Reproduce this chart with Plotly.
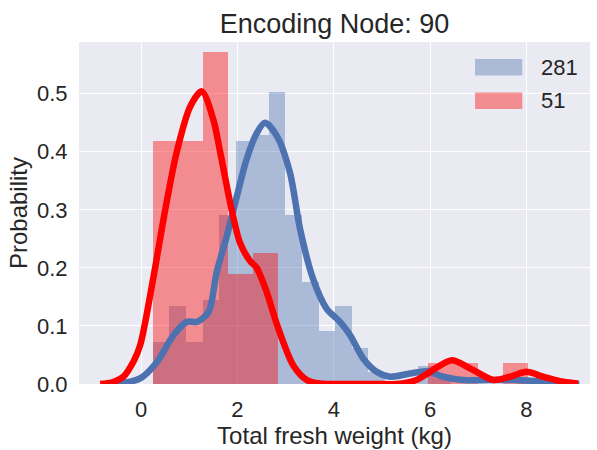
import numpy as np
import plotly.graph_objects as go

# ---------------- data ----------------
title_text = "Encoding Node: 90"
x_label = "Total fresh weight (kg)"
y_label = "Probability"
series_names = ["281", "51"]

# histogram bins (kg)
blue_bin_start = 0.243
blue_bin_width = 0.344
blue_density = [0.072, 0.135, 0.072, 0.145, 0.291, 0.418, 0.428, 0.503, 0.291,
                0.176, 0.092, 0.134, 0.062, 0.021, 0.0, 0.0, 0.031, 0.010,
                0.0, 0.0, 0.0, 0.0, 0.010]

red_bin_start = 0.243
red_bin_width = 0.5187
red_density = [0.418, 0.418, 0.572, 0.190, 0.225, 0.0, 0.0, 0.0, 0.0, 0.0, 0.0,
               0.036, 0.036, 0.0, 0.036]

# KDE curves
blue_kde_x = [-0.50, -0.02, 0.33, 0.67, 0.95, 1.16, 1.40, 1.57, 1.78, 1.99, 2.19,
              2.40, 2.57, 2.82, 3.09, 3.30, 3.57, 3.85, 4.13, 4.34, 4.61, 4.89,
              5.17, 5.58, 5.93, 6.27, 6.69, 7.24, 7.79, 8.35, 8.76, 9.10]
blue_kde_y = [0.0, 0.0096, 0.038, 0.084, 0.107, 0.107, 0.124, 0.193, 0.255, 0.324,
              0.387, 0.432, 0.450, 0.427, 0.364, 0.267, 0.181, 0.130, 0.107, 0.084,
              0.044, 0.021, 0.0125, 0.018, 0.022, 0.0125, 0.0067, 0.0067, 0.0067,
              0.004, 0.001, 0.0]

red_kde_x = [-0.85, -0.60, -0.37, -0.15, -0.02, 0.07, 0.29, 0.50, 0.74, 1.02, 1.26,
             1.50, 1.64, 1.88, 2.05, 2.26, 2.40, 2.60, 2.83, 3.16, 3.44, 3.71, 4.20,
             4.80, 5.30, 5.72, 6.00, 6.45, 6.83, 7.31, 7.66, 8.00, 8.35, 8.76, 9.07]
red_kde_y = [0.0, 0.003, 0.0125, 0.040, 0.067, 0.100, 0.200, 0.300, 0.400, 0.478,
             0.504, 0.455, 0.400, 0.300, 0.244, 0.212, 0.200, 0.160, 0.100, 0.032,
             0.007, 0.001, 0.0, 0.0, 0.0, 0.007, 0.021, 0.041, 0.027, 0.007, 0.0125,
             0.021, 0.0125, 0.004, 0.001]

x_ticks = [0, 2, 4, 6, 8]
y_ticks = [0.0, 0.1, 0.2, 0.3, 0.4, 0.5]

# ---------------- styles ----------------
BLUE = "#4C72B0"
RED = "#FF0000"
BLUE_BAR = "rgba(76,114,176,0.4)"
RED_BAR = "rgba(255,0,0,0.4)"
TXT = "#262626"
FONT = "Liberation Sans, Arial, sans-serif"

blue_centers = blue_bin_start + blue_bin_width * (np.arange(len(blue_density)) + 0.5)
red_centers = red_bin_start + red_bin_width * (np.arange(len(red_density)) + 0.5)

fig = go.Figure()
fig.add_trace(go.Bar(x=blue_centers, y=blue_density, width=blue_bin_width,
                     marker=dict(color=BLUE_BAR, line=dict(width=0)),
                     name=series_names[0], showlegend=False))
fig.add_trace(go.Bar(x=red_centers, y=red_density, width=red_bin_width,
                     marker=dict(color=RED_BAR, line=dict(width=0)),
                     name=series_names[1], showlegend=False))
fig.add_trace(go.Scatter(x=blue_kde_x, y=blue_kde_y, mode="lines",
                         line=dict(color=BLUE, width=6.5, shape="spline", smoothing=0.8),
                         showlegend=False, hoverinfo="skip"))
fig.add_trace(go.Scatter(x=red_kde_x, y=red_kde_y, mode="lines",
                         line=dict(color=RED, width=6.5, shape="spline", smoothing=0.8),
                         showlegend=False, hoverinfo="skip"))

# manual legend (wide patches like matplotlib)
leg_items = [(series_names[0], BLUE_BAR, 0.9506, 0.902),
             (series_names[1], RED_BAR, 0.8526, 0.8044)]
for name, col, y1, y0 in leg_items:
    fig.add_shape(type="rect", xref="paper", yref="paper", x0=0.775, x1=0.8675,
                  y0=y0, y1=y1, fillcolor=col, line=dict(width=0), layer="above")
    fig.add_annotation(xref="paper", yref="paper", x=0.9, y=(y0 + y1) / 2,
                       text=name, showarrow=False, xanchor="left", yanchor="middle",
                       font=dict(size=22, color=TXT, family=FONT))

fig.update_layout(
    width=597, height=450, autosize=False,
    margin=dict(l=79, r=7, t=42, b=64),
    paper_bgcolor="white", plot_bgcolor="#EAEAF2",
    barmode="overlay", bargap=0,
    font=dict(family=FONT, color=TXT, size=22),
    title=dict(text=title_text, x=0.5, xref="paper", xanchor="center",
               y=1 - 24 / 450, yref="container", yanchor="middle",
               font=dict(size=27, color=TXT, family=FONT)),
)
fig.update_xaxes(range=[-1.29, 9.32], tickvals=x_ticks, ticktext=[str(v) for v in x_ticks],
                 showgrid=True, gridcolor="white", gridwidth=1.3, zeroline=False,
                 showline=False, ticks="outside", ticklen=6, tickcolor="rgba(0,0,0,0)",
                 tickfont=dict(size=22, color=TXT),
                 title=dict(text=x_label, font=dict(size=24, color=TXT), standoff=4))
fig.update_yaxes(range=[0, 0.589], tickvals=y_ticks, ticktext=[f"{v:.1f}" for v in y_ticks],
                 showgrid=True, gridcolor="white", gridwidth=1.3, zeroline=False,
                 showline=False, ticks="outside", ticklen=6, tickcolor="rgba(0,0,0,0)",
                 tickfont=dict(size=22, color=TXT),
                 title=dict(text=y_label, font=dict(size=24, color=TXT), standoff=2))

fig.write_html("out.html")
